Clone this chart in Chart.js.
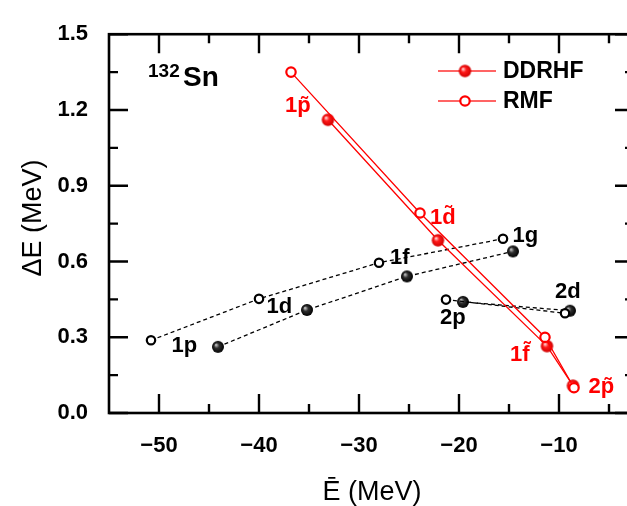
<!DOCTYPE html>
<html>
<head>
<meta charset="utf-8">
<script src="https://cdn.jsdelivr.net/npm/chart.js@4.4.1/dist/chart.umd.min.js"></script>
<style>
  html, body { margin: 0; padding: 0; overflow: hidden; background: #fff; }
  canvas { display: block; }
</style>
</head>
<body>
<canvas id="splitting" width="645" height="506"></canvas>
<script>
// pseudo-spin doublets (red) and spin doublets (black), 132Sn
const pseudoLevels = ['1p\u0303', '1d\u0303', '1f\u0303', '2p\u0303'];
const ddrhfPseudoE  = [-33.1, -22.1, -11.2, -8.6];
const ddrhfPseudoDE = [1.161, 0.684, 0.265, 0.108];
const rmfPseudoE    = [-36.8, -23.9, -11.4, -8.5];
const rmfPseudoDE   = [1.350, 0.792, 0.300, 0.100];

const spinLevels = ['1p', '1d', '1f', '1g'];
const ddrhfSpinE  = [-44.1, -35.2, -25.2, -14.6];
const ddrhfSpinDE = [0.262, 0.408, 0.541, 0.640];
const rmfSpinE    = [-50.8, -40.0, -28.0, -15.6];
const rmfSpinDE   = [0.288, 0.452, 0.595, 0.690];

const spinLevels2 = ['2p', '2d'];
const ddrhfSpin2E  = [-19.6, -8.9];
const ddrhfSpin2DE = [0.440, 0.405];
const rmfSpin2E    = [-21.3, -9.4];
const rmfSpin2DE   = [0.449, 0.395];

const xTicks = [-50, -40, -30, -20, -10];
const xMinor = [-45, -35, -25, -15, -5];
const yTicks = [0, 0.3, 0.6, 0.9, 1.2, 1.5];
const yMinor = [0.15, 0.45, 0.75, 1.05, 1.35];

// where the level names sit (left edge, baseline)
const pseudoLabelAt = [[-37.4, 1.192], [-22.9, 0.747], [-14.9, 0.206], [-7.05, 0.079]];
const spinLabelAt   = [[-48.75, 0.24], [-39.24, 0.396], [-26.9, 0.589], [-14.66, 0.678]];
const spin2LabelAt  = [[-21.9, 0.354], [-10.4, 0.456]];

const FONT = '"Liberation Sans", Arial, Helvetica, sans-serif';
const RED = '#ff0000';

// shaded ball used for the filled markers
function ball(r, hi, mid, edge) {
  const c = document.createElement('canvas');
  const s = Math.ceil(r * 2) + 2;
  c.width = s; c.height = s;
  const g = c.getContext('2d');
  const cx = s / 2, cy = s / 2;
  const grad = g.createRadialGradient(cx - r * 0.35, cy - r * 0.35, 0.3, cx, cy, r);
  grad.addColorStop(0, hi);
  grad.addColorStop(0.4, mid);
  grad.addColorStop(1, edge);
  g.fillStyle = grad;
  g.beginPath(); g.arc(cx, cy, r, 0, Math.PI * 2); g.fill();
  return c;
}
const redBall = ball(6.2, '#ffe0e0', '#ff1a1a', '#d00000');
const blackBall = ball(6, '#c8c8c8', '#303030', '#000000');

const pts = (xs, ys) => xs.map((v, i) => ({ x: v, y: ys[i] }));

function openSet(label, xs, ys, color, dashed, r) {
  return {
    label, data: pts(xs, ys), showLine: true,
    borderColor: color, borderWidth: 1.3, borderDash: dashed ? [4, 3] : [],
    pointStyle: 'circle', pointRadius: r, pointHoverRadius: r,
    pointBackgroundColor: '#fff', pointBorderColor: color, pointBorderWidth: 2.2
  };
}
function filledSet(label, xs, ys, color, dashed, img) {
  return {
    label, data: pts(xs, ys), showLine: true,
    borderColor: color, borderWidth: 1.3, borderDash: dashed ? [4, 3] : [],
    pointStyle: img, pointRadius: 6, pointHoverRadius: 6
  };
}

const frame = {
  id: 'frame',
  afterDatasetsDraw(chart) {
    const { ctx, chartArea: a, scales: { x, y } } = chart;
    ctx.save();
    ctx.strokeStyle = '#000';
    ctx.lineWidth = 2.6;
    ctx.strokeRect(a.left, a.top, a.right - a.left, a.bottom - a.top);
    ctx.lineWidth = 2.4;
    ctx.beginPath();
    const xt = (v, len) => {
      const p = x.getPixelForValue(v);
      ctx.moveTo(p, a.bottom); ctx.lineTo(p, a.bottom - len);
      ctx.moveTo(p, a.top); ctx.lineTo(p, a.top + len);
    };
    const yt = (v, len) => {
      const p = y.getPixelForValue(v);
      ctx.moveTo(a.left, p); ctx.lineTo(a.left + len, p);
      ctx.moveTo(a.right, p); ctx.lineTo(a.right - len, p);
    };
    xTicks.forEach(v => xt(v, 19));
    xMinor.forEach(v => xt(v, 9));
    yTicks.forEach(v => yt(v, 19));
    yMinor.forEach(v => yt(v, 9));
    ctx.stroke();

    // level names
    ctx.textAlign = 'left';
    ctx.textBaseline = 'alphabetic';
    ctx.font = 'bold 22px ' + FONT;
    ctx.fillStyle = RED;
    pseudoLevels.forEach((t, i) => {
      const [lx, ly] = pseudoLabelAt[i];
      ctx.fillText(t, x.getPixelForValue(lx), y.getPixelForValue(ly));
    });
    ctx.fillStyle = '#000';
    spinLevels.forEach((t, i) => {
      const [lx, ly] = spinLabelAt[i];
      ctx.fillText(t, x.getPixelForValue(lx), y.getPixelForValue(ly));
    });
    spinLevels2.forEach((t, i) => {
      const [lx, ly] = spin2LabelAt[i];
      ctx.fillText(t, x.getPixelForValue(lx), y.getPixelForValue(ly));
    });

    // nucleus tag
    ctx.font = 'bold 19px ' + FONT;
    ctx.fillText('132', 148, 77);
    ctx.font = 'bold 28px ' + FONT;
    ctx.fillText('Sn', 183, 86);

    // legend
    const rows = [['DDRHF', 71, true], ['RMF', 101, false]];
    rows.forEach(([name, ly, filled]) => {
      ctx.strokeStyle = '#ff3030';
      ctx.lineWidth = 1.6;
      ctx.beginPath(); ctx.moveTo(438, ly); ctx.lineTo(496, ly); ctx.stroke();
      if (filled) {
        ctx.drawImage(redBall, 465 - redBall.width / 2, ly - redBall.height / 2);
      } else {
        ctx.fillStyle = '#fff'; ctx.strokeStyle = RED; ctx.lineWidth = 2.2;
        ctx.beginPath(); ctx.arc(465, ly, 4.7, 0, Math.PI * 2); ctx.fill(); ctx.stroke();
      }
      ctx.fillStyle = '#000';
      ctx.font = 'bold 23px ' + FONT;
      ctx.textBaseline = 'middle';
      ctx.fillText(name, 503, ly + 1);
      ctx.textBaseline = 'alphabetic';
    });

    // axis titles
    ctx.fillStyle = '#000';
    ctx.font = '27px ' + FONT;
    ctx.textAlign = 'center';
    ctx.fillText('\u0112 (MeV)', 372, 500);
    ctx.translate(41, 218);
    ctx.rotate(-Math.PI / 2);
    ctx.fillText('\u0394E (MeV)', 0, 0);
    ctx.restore();
  }
};

new Chart(document.getElementById('splitting'), {
  type: 'scatter',
  data: {
    datasets: [
      openSet('RMF', rmfPseudoE, rmfPseudoDE, RED, false, 4.7),
      filledSet('DDRHF', ddrhfPseudoE, ddrhfPseudoDE, RED, false, redBall),
      openSet('RMF spin', rmfSpinE, rmfSpinDE, '#000', true, 4.2),
      openSet('RMF spin 2', rmfSpin2E, rmfSpin2DE, '#000', true, 4.2),
      filledSet('DDRHF spin', ddrhfSpinE, ddrhfSpinDE, '#000', true, blackBall),
      filledSet('DDRHF spin 2', ddrhfSpin2E, ddrhfSpin2DE, '#000', true, blackBall)
    ]
  },
  options: {
    responsive: false,
    maintainAspectRatio: false,
    devicePixelRatio: 1,
    animation: false,
    layout: { padding: { top: 19, right: 11, left: 0, bottom: 0 } },
    plugins: { legend: { display: false }, tooltip: { enabled: false } },
    scales: {
      x: {
        type: 'linear', min: -55, max: -2.5,
        grid: { display: false, drawTicks: false },
        border: { display: false },
        afterBuildTicks: s => { s.ticks = xTicks.map(v => ({ value: v })); },
        afterFit: s => { s.height = 93; },
        ticks: {
          padding: 20, color: '#000',
          font: { family: FONT, size: 22, weight: 'bold' },
          callback: v => '\u2212' + Math.abs(v)
        }
      },
      y: {
        type: 'linear', min: 0, max: 1.5,
        grid: { display: false, drawTicks: false },
        border: { display: false },
        afterBuildTicks: s => { s.ticks = yTicks.map(v => ({ value: v })); },
        afterFit: s => { s.width = 109; },
        ticks: {
          padding: 21, color: '#000',
          font: { family: FONT, size: 22, weight: 'bold' },
          callback: v => v.toFixed(1)
        }
      }
    }
  },
  plugins: [frame]
});
</script>
</body>
</html>
